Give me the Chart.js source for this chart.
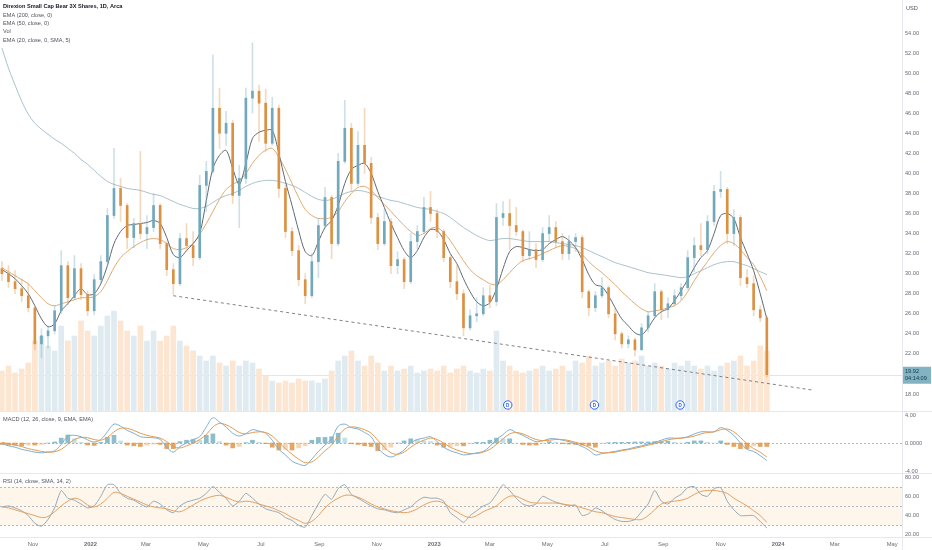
<!DOCTYPE html>
<html>
<head>
<meta charset="utf-8">
<title>Direxion Small Cap Bear 3X Shares, 1D</title>
<script src="https://cdn.jsdelivr.net/npm/chart.js@4.4.1/dist/chart.umd.min.js"></script>
<style>
  html, body { margin: 0; padding: 0; background: #fff; }
  #wrap { position: relative; width: 932px; height: 550px; overflow: hidden; }
  #wrap canvas { position: absolute; left: 0; top: 0; }
</style>
</head>
<body>
<div id="wrap">
  <canvas id="priceChart" width="932" height="550"></canvas>
  <canvas id="macdChart" width="932" height="550"></canvas>
  <canvas id="rsiChart" width="932" height="550"></canvas>
</div>
<script>
const FONT = '"Liberation Sans", Arial, sans-serif';

// weekly bars, first one is the week of this date, then +7 days each
const firstBarDate = '2021-09-29';

const opens = [30.5,30.0,29.2,28.5,27.8,26.6,23.0,23.8,24.3,26.3,
  30.8,27.6,30.5,27.9,26.3,29.4,31.2,35.8,38.5,36.8,
  33.6,35.0,34.0,34.6,36.8,33.0,30.4,29.0,33.5,32.8,
  31.6,38.8,40.2,46.5,44.0,45.0,37.8,39.5,47.5,48.2,
  47.0,43.0,46.5,38.5,34.2,32.3,29.4,27.8,31.2,34.8,
  37.6,33.0,41.2,44.5,39.0,42.8,41.0,35.6,33.0,35.2,
  30.8,31.4,29.2,33.2,34.2,36.6,36.0,34.2,31.6,29.2,
  28.0,24.6,25.8,26.0,27.8,27.2,35.6,36.0,34.8,34.2,
  31.8,32.4,31.4,34.0,34.6,33.2,32.0,33.2,33.6,28.2,
  26.6,27.8,28.6,26.0,24.0,23.0,23.4,22.4,24.6,25.8,
  28.2,26.4,27.0,27.8,28.6,31.6,32.8,32.4,35.2,38.2,
  38.4,34.0,35.6,29.6,29.0,26.4,25.6];
const highs = [31.2,30.8,30.3,29.5,29.0,26.8,24.5,24.8,26.8,32.3,
  31.2,31.8,31.0,28.3,29.9,31.8,36.5,42.5,39.5,37.0,
  35.5,42.2,35.8,38.0,37.0,33.2,31.0,34.0,35.0,34.2,
  39.8,41.2,51.8,48.5,46.2,45.3,40.8,48.5,53.0,48.8,
  48.4,47.6,46.8,38.8,34.6,32.8,30.0,32.0,35.5,38.6,
  37.8,42.0,47.3,45.0,44.2,46.5,41.6,36.0,36.4,35.5,
  32.2,31.6,34.0,34.8,37.6,38.2,36.4,34.4,31.8,30.8,
  28.4,26.4,27.6,28.6,28.8,37.0,37.2,37.4,36.6,34.4,
  34.2,33.0,34.6,35.8,35.2,34.0,33.8,34.0,33.8,28.4,
  28.2,29.6,28.8,26.6,24.2,23.8,23.6,25.0,26.2,29.0,
  28.4,27.6,28.4,29.0,32.3,33.6,35.0,35.8,38.8,40.2,
  38.6,36.4,35.8,30.4,29.8,26.8,25.8];
const lows = [29.3,28.6,28.0,27.2,26.2,22.4,21.6,22.6,24.0,26.0,
  26.9,27.4,27.4,25.8,25.9,29.0,30.8,35.5,35.2,32.5,
  32.6,33.5,32.5,34.2,32.5,29.8,27.9,28.8,32.2,30.8,
  31.4,36.2,40.0,42.5,42.8,37.0,34.6,39.0,46.0,43.2,
  42.2,42.8,37.6,33.6,31.8,28.8,27.0,27.6,29.6,34.5,
  31.5,32.8,41.0,38.2,38.8,40.0,35.0,32.4,32.8,30.0,
  30.0,28.5,29.0,32.5,34.0,35.2,33.6,31.2,28.6,27.4,
  23.8,24.4,25.2,25.8,26.6,26.8,34.8,32.4,33.8,31.2,
  31.4,30.6,31.2,33.2,32.6,31.4,31.4,32.2,27.6,25.8,
  26.2,27.6,25.6,23.4,22.6,22.6,21.8,22.4,24.2,25.6,
  25.4,25.6,26.8,27.4,28.4,30.2,31.8,32.0,34.8,37.6,
  33.0,32.8,28.8,28.6,25.8,25.2,19.7];
const closes = [30.0,29.2,28.5,27.8,26.6,23.0,23.8,24.3,26.3,30.8,
  27.6,30.5,27.9,26.3,29.4,31.2,35.8,38.5,36.8,33.6,
  35.0,34.0,34.6,36.8,33.0,30.4,29.0,33.5,32.8,31.6,
  38.8,40.2,46.5,44.0,45.0,37.8,39.5,47.5,48.2,47.0,
  43.0,46.5,38.5,34.2,32.3,29.4,27.8,31.2,34.8,37.6,
  33.0,41.2,44.5,39.0,42.8,41.0,35.6,33.0,35.2,30.8,
  31.4,29.2,33.2,34.2,36.6,36.0,34.2,31.6,29.2,28.0,
  24.6,25.8,26.0,27.8,27.2,35.6,36.0,34.8,34.2,31.8,
  32.4,31.4,34.0,34.6,33.2,32.0,33.2,33.6,28.2,26.6,
  27.8,28.6,26.0,24.0,23.0,23.4,22.4,24.6,25.8,28.2,
  26.4,27.0,27.8,28.6,31.6,32.8,32.4,35.2,38.2,38.4,
  34.0,35.6,29.6,29.0,26.4,25.6,19.92];
// volume, millions of shares (daily level)
const volumes = [4.0,4.5,3.8,4.2,4.8,7.0,7.5,6.5,6.0,8.5,
  7.0,7.5,9.0,8.0,7.5,8.5,9.5,10.0,9.0,8.0,
  7.5,8.5,7.0,8.0,7.0,7.5,8.5,7.0,6.5,6.0,
  5.5,5.0,5.5,4.8,4.5,5.0,4.5,5.0,4.8,4.2,
  3.5,3.0,2.8,3.0,2.8,3.2,3.0,3.0,2.8,3.2,
  4.0,5.0,5.5,6.0,5.0,4.5,5.5,4.8,4.0,4.5,
  4.0,4.2,4.5,3.8,4.0,4.2,4.0,4.5,3.8,4.2,
  4.5,4.0,3.8,4.2,4.0,8.0,5.0,4.5,4.0,3.8,
  4.0,4.2,4.5,4.0,4.2,4.5,4.0,5.0,4.8,5.5,
  4.5,4.8,5.0,4.5,5.2,4.8,5.0,5.5,4.5,4.8,
  4.5,4.2,4.8,4.5,5.0,4.5,4.2,4.5,4.0,4.5,
  4.8,5.0,5.5,4.5,5.0,6.5,6.0];

const ema200 = [52.5,50.5,48.8,47.2,45.9,45.0,44.4,43.9,43.4,43.0,
  42.5,42.0,41.4,40.9,40.3,39.7,39.2,38.9,38.7,38.5,
  38.4,38.3,38.1,37.9,37.8,37.5,37.2,36.9,36.7,36.5,
  36.5,36.7,37.1,37.5,37.8,38.0,38.3,38.7,39.0,39.2,
  39.3,39.3,39.2,39.0,38.8,38.5,38.1,37.7,37.4,37.3,
  37.4,37.7,38.0,38.2,38.3,38.2,38.0,37.7,37.5,37.3,
  37.2,37.0,36.8,36.6,36.5,36.4,36.2,36.0,35.6,35.1,
  34.6,34.2,33.8,33.5,33.3,33.4,33.5,33.5,33.4,33.3,
  33.2,33.2,33.2,33.2,33.1,33.0,32.9,32.8,32.6,32.3,
  32.0,31.7,31.4,31.1,30.9,30.7,30.5,30.3,30.1,30.0,
  29.9,29.8,29.7,29.6,29.7,30.0,30.3,30.6,30.9,31.1,
  31.2,31.2,31.0,30.8,30.5,30.2,29.9];
const ema50 = [30.6,30.2,29.8,29.4,29.0,28.3,27.6,27.0,26.8,27.0,
  27.2,27.4,27.6,27.6,27.7,28.2,29.3,30.6,31.6,32.2,
  32.7,33.1,33.4,33.5,33.4,33.0,32.5,32.4,32.6,33.0,
  33.9,35.0,36.2,37.4,38.4,38.9,39.3,40.0,41.0,41.8,
  42.3,42.5,41.6,40.4,39.0,37.6,36.4,35.8,35.5,35.5,
  35.6,36.2,37.2,38.0,38.6,38.7,38.3,37.6,36.9,36.2,
  35.5,34.8,34.2,33.8,34.0,34.5,34.6,34.1,33.3,32.3,
  31.3,30.4,29.8,29.4,29.0,28.9,29.4,30.1,30.8,31.3,
  31.5,31.7,32.0,32.3,32.6,32.8,32.7,32.5,31.9,31.2,
  30.6,30.1,29.5,28.9,28.2,27.6,27.0,26.5,26.2,26.3,
  26.4,26.6,26.8,27.3,28.2,29.3,30.3,31.2,32.1,32.8,
  33.2,33.0,32.4,31.6,30.9,29.7,28.3];
const ema20 = [30.4,30.0,29.5,28.8,28.0,26.8,25.5,24.7,25.0,26.3,
  27.0,27.8,28.5,27.9,28.0,29.0,30.8,33.0,34.2,34.8,
  34.9,35.0,35.1,35.3,35.0,33.6,31.9,31.6,32.3,33.0,
  34.0,37.3,40.5,41.8,42.3,40.5,38.9,41.0,43.5,44.1,
  44.3,44.3,42.0,39.2,36.8,34.3,32.2,31.8,33.2,34.6,
  35.3,36.8,39.0,40.4,40.8,41.0,40.0,38.2,36.6,35.0,
  33.6,32.3,31.6,32.3,33.6,34.4,34.3,33.4,32.0,31.0,
  29.5,28.2,27.2,26.8,27.1,28.5,30.5,32.2,32.7,32.6,
  32.4,32.3,32.4,33.0,33.4,33.7,33.3,32.6,31.4,29.9,
  28.9,28.7,27.8,26.6,25.5,24.8,24.1,23.9,24.6,25.6,
  26.2,26.5,27.3,28.3,29.4,30.6,31.6,32.3,34.0,35.8,
  36.0,35.5,33.6,32.0,30.3,28.0,25.5];

const macdLine = [-0.1,-0.4,-0.6,-0.9,-1.1,-1.3,-1.4,-1.3,-1.1,-0.2,
  0.95,1.1,0.9,0.45,0.15,0.5,1.6,2.7,2.4,1.8,
  1.4,0.9,0.8,0.75,0.5,-0.6,-1.3,-0.5,0,0.5,
  0.9,2.3,3.6,3.0,2.3,1.4,1.0,1.35,1.9,1.7,
  1.4,0.4,-0.9,-1.7,-2.6,-3.0,-3.2,-2.3,-1.2,-0.3,
  0.6,2.4,2.7,2.2,2.0,1.5,0.9,-0.7,-1.6,-2.0,
  -1.6,-1.0,0,0.5,0.7,0.9,0.2,-0.6,-1.1,-1.4,
  -1.7,-1.6,-1.4,-1.2,-0.5,0.5,1.2,1.9,1.5,1.1,
  0.6,0.2,0.3,0.6,0.6,0.4,0.2,-0.1,-0.5,-1.0,
  -1.7,-1.5,-1.35,-1.2,-1.0,-0.85,-0.6,-0.4,-0.15,0.1,
  0.4,0.7,0.7,0.7,0.9,1.3,1.6,1.6,1.6,2.2,
  1.8,1.1,0,-0.9,-1.2,-1.8,-2.5];
const signalLine = [0.1,-0.1,-0.3,-0.5,-0.8,-1.0,-1.2,-1.3,-1.25,-0.9,
  -0.2,0.5,0.8,0.75,0.5,0.4,0.8,1.6,2.1,2.1,
  1.8,1.4,1.1,0.9,0.7,0.2,-0.5,-0.7,-0.4,0,
  0.5,1.2,2.3,2.8,2.6,2.1,1.5,1.3,1.5,1.6,
  1.5,1.0,0.1,-0.8,-1.6,-2.3,-2.8,-2.7,-2.0,-1.1,
  -0.3,1.0,2.0,2.3,2.2,1.9,1.4,0.4,-0.6,-1.4,
  -1.6,-1.3,-0.6,0,0.4,0.7,0.5,0,-0.6,-1.0,
  -1.3,-1.5,-1.5,-1.3,-0.9,-0.2,0.6,1.3,1.5,1.3,
  0.9,0.5,0.35,0.4,0.5,0.5,0.35,0.1,-0.2,-0.6,
  -1.1,-1.4,-1.4,-1.3,-1.1,-0.95,-0.75,-0.55,-0.3,-0.1,
  0.2,0.45,0.6,0.7,0.8,1.0,1.3,1.5,1.6,1.9,
  2.0,1.6,0.8,-0.1,-0.8,-1.3,-2.0];

const rsiLine = [49,50,48,45,40,32,29,36,48,66,
  58,56,52,48,50,60,72,72,63,58,
  56,52,49,55,52,46,43,50,54,56,
  58,63,70,64,58,50,55,63,58,52,
  47,45,43,38,35,30,28,40,52,62,
  57,68,72,62,58,54,50,47,46,44,
  43,46,49,55,59,58,58,55,43,38,
  33,40,45,50,53,62,72,66,58,52,
  50,52,60,57,54,52,50,51,40,42,
  48,45,40,36,34,34,36,44,52,66,
  55,52,58,62,69,70,62,60,68,69,
  55,46,40,40,40,34,27];
const rsiMa = [49,48,46,44,42,40,38,39,44,50,
  55,58,56,51,49,52,58,64,63,60,
  57,54,51,49,48,47,45,44,47,51,
  55,58,60,61,59,56,54,55,54,52,
  50,48,45,42,38,35,32,34,40,48,
  54,58,61,61,59,56,52,49,47,45,
  44,43,44,47,51,54,55,53,48,44,
  40,38,40,44,47,50,56,60,60,57,
  54,53,53,53,53,52,51,50,48,46,
  44,43,41,39,38,37,36,36,40,46,
  52,54,55,56,58,62,65,66,66,65,
  63,58,54,50,45,40,33];

const priceTicks = [18,22,24,26,28,30,32,34,36,38,40,42,44,46,48,50,52,54];
const macdTicks = [-4, 0, 4];
const rsiTicks = [20, 40, 60, 80];
const rsiLevels = [70, 50, 30];
const timeTickDates = ['2021-11-01','2022-01-01','2022-03-01','2022-05-01','2022-07-01','2022-09-01',
  '2022-11-01','2023-01-01','2023-03-01','2023-05-01','2023-07-01','2023-09-01','2023-11-01',
  '2024-01-01','2024-03-01','2024-05-01'];
const timeTickLabels = ['Nov','2022','Mar','May','Jul','Sep','Nov','2023','Mar','May','Jul','Sep','Nov','2024','Mar','May'];
const dividendDates = ['2023-03-20','2023-06-20','2023-09-19'];
const trendDates = ['2022-03-30','2024-02-06'];
const trendValues = [27.8, 18.4];
const lastPrice = 19.92;
const lastTime = '04:14:09';
const legendLines = ['Direxion Small Cap Bear 3X Shares, 1D, Arca','EMA (200, close, 0)','EMA (50, close, 0)','Vol','EMA (20, close, 0, SMA, 5)'];

const UP = '#72a8bb', DOWN = '#dc9142';
const ORIGIN = Date.UTC(2021, 10, 1);
function dayNum(s) {
  const p = s.split('-').map(Number);
  return (Date.UTC(p[0], p[1] - 1, p[2]) - ORIGIN) / 86400000;
}
const X_MIN = -35, X_MAX = 922.5;
const barX = closes.map((c, i) => dayNum(firstBarDate) + 7 * i);
const isUp = closes.map((c, i) => c >= opens[i]);
const pts = arr => arr.map((v, i) => ({ x: barX[i], y: v }));

function xAxis(show) {
  return { type: 'linear', min: X_MIN, max: X_MAX, offset: false, display: show,
    grid: { display: false, drawTicks: false }, border: { display: false } };
}
function yAxis(min, max, ticks, fmt) {
  return {
    position: 'right', min, max,
    afterFit: s => { s.width = 30; s.paddingTop = 0; s.paddingBottom = 0; },
    afterBuildTicks: s => { s.ticks = ticks.map(v => ({ value: v })); },
    ticks: { callback: fmt, color: '#6a6d78', padding: 3, font: { size: 5.6, family: FONT } },
    grid: { display: false, drawTicks: false },
    border: { display: false }
  };
}
const base = {
  responsive: false, animation: false, events: [],
  plugins: { legend: { display: false }, tooltip: { enabled: false } }
};
function lineSet(arr, color, order, extra) {
  return Object.assign({ type: 'line', data: pts(arr), borderColor: color, borderWidth: 1,
    pointRadius: 0, tension: 0.3, fill: false, order }, extra || {});
}
function text(ctx, str, x, y, size, color, bold, align) {
  ctx.font = (bold ? 'bold ' : '') + size + 'px ' + FONT;
  ctx.fillStyle = color;
  ctx.textAlign = align || 'left';
  ctx.textBaseline = 'middle';
  ctx.fillText(str, x, y);
}
function dashedH(ctx, a, y, color) {
  ctx.save();
  ctx.strokeStyle = color; ctx.lineWidth = 1; ctx.setLineDash([2, 2]);
  ctx.beginPath(); ctx.moveTo(a.left, Math.round(y) + 0.5); ctx.lineTo(a.right, Math.round(y) + 0.5); ctx.stroke();
  ctx.restore();
}

// ---------- price pane ----------
const priceDecor = {
  id: 'priceDecor',
  beforeDatasetsDraw(chart) {
    const { ctx, chartArea: a, scales } = chart;
    const y = Math.round(scales.y.getPixelForValue(lastPrice)) + 0.5;
    ctx.save();
    ctx.strokeStyle = '#e3e5ea'; ctx.lineWidth = 1;
    ctx.beginPath(); ctx.moveTo(a.left, y); ctx.lineTo(a.right, y); ctx.stroke();
    ctx.restore();
  },
  afterDraw(chart) {
    const { ctx, chartArea: a, scales } = chart;
    ctx.save();
    legendLines.forEach((s, i) => text(ctx, s, 3, 6.7 + i * 8.4, 5.6, i === 0 ? '#131722' : '#50535e', i === 0));
    text(ctx, 'USD', 906, 8, 5.6, '#50535e');
    // last price label on the axis
    const y = scales.y.getPixelForValue(lastPrice);
    ctx.fillStyle = '#82b3c3';
    ctx.fillRect(a.right + 1, y - 8, 28, 17);
    text(ctx, lastPrice.toFixed(2), a.right + 3, y - 3.5, 5.6, '#163743');
    text(ctx, lastTime, a.right + 3, y + 4, 5.6, '#163743');
    // dividend markers
    dividendDates.forEach(d => {
      const x = scales.x.getPixelForValue(dayNum(d));
      const cy = a.bottom - 6;
      ctx.beginPath(); ctx.arc(x, cy, 4.2, 0, Math.PI * 2);
      ctx.fillStyle = '#fff'; ctx.fill();
      ctx.strokeStyle = '#2f62f0'; ctx.lineWidth = 1; ctx.stroke();
      text(ctx, 'D', x, cy + 0.3, 4.6, '#2f62f0', true, 'center');
    });
    ctx.restore();
  }
};

new Chart(document.getElementById('priceChart'), {
  type: 'bar',
  data: {
    datasets: [
      { data: barX.map((x, i) => ({ x, y: volumes[i] })), yAxisID: 'yv', grouped: false, barThickness: 5,
        backgroundColor: isUp.map(u => u ? '#dfebf1' : '#fce6d2'), order: 10 },
      { type: 'line', data: trendDates.map((d, i) => ({ x: dayNum(d), y: trendValues[i] })),
        borderColor: '#7d808a', borderWidth: 1, borderDash: [3, 3], pointRadius: 0, order: 6 },
      lineSet(ema200, '#a9c2ca', 5),
      lineSet(ema50, '#e0aa72', 4),
      lineSet(ema20, '#5f6a74', 3),
      { data: barX.map((x, i) => ({ x, y: [lows[i], highs[i]] })), grouped: false, barThickness: 1,
        backgroundColor: isUp.map(u => u ? 'rgba(114,168,187,0.35)' : 'rgba(220,145,66,0.35)'), order: 2 },
      { data: barX.map((x, i) => ({ x, y: [opens[i], closes[i]] })), grouped: false, barThickness: 2, minBarLength: 1,
        backgroundColor: isUp.map(u => u ? UP : DOWN), order: 1 }
    ]
  },
  options: Object.assign({}, base, {
    layout: { padding: { top: 0, bottom: 139, left: 0, right: 0 } },
    scales: {
      x: xAxis(false),
      y: yAxis(16.305, 57.29, priceTicks, v => v.toFixed(2)),
      yv: { display: false, min: 0, max: 41.1 }
    }
  }),
  plugins: [priceDecor]
});

// ---------- MACD pane ----------
const hist = macdLine.map((m, i) => +(m - signalLine[i]).toFixed(2));
const histColors = hist.map((h, i) => {
  const prev = i ? hist[i - 1] : 0;
  if (h >= 0) return h >= prev ? 'rgba(92,159,181,0.7)' : 'rgba(150,196,212,0.55)';
  return h <= prev ? 'rgba(223,143,60,0.8)' : 'rgba(240,190,140,0.65)';
});
const macdDecor = {
  id: 'macdDecor',
  beforeDatasetsDraw(chart) {
    dashedH(chart.ctx, chart.chartArea, chart.scales.y.getPixelForValue(0), '#b4b7c0');
  },
  afterDraw(chart) {
    text(chart.ctx, 'MACD (12, 26, close, 9, EMA, EMA)', 3, 419, 5.6, '#50535e');
  }
};
new Chart(document.getElementById('macdChart'), {
  type: 'bar',
  data: {
    datasets: [
      { data: pts(hist), grouped: false, barThickness: 4, backgroundColor: histColors, order: 3 },
      lineSet(macdLine, '#7eaed0', 2, { tension: 0.35 }),
      lineSet(signalLine, '#e39a4e', 1, { tension: 0.35 })
    ]
  },
  options: Object.assign({}, base, {
    layout: { padding: { top: 412, bottom: 78, left: 0, right: 0 } },
    scales: {
      x: xAxis(false),
      y: yAxis(-4.14, 4.43, macdTicks, v => v === 0 ? '0.0000' : v.toFixed(2))
    }
  }),
  plugins: [macdDecor]
});

// ---------- RSI pane + time axis ----------
const rsiDecor = {
  id: 'rsiDecor',
  beforeDatasetsDraw(chart) {
    const { ctx, chartArea: a, scales } = chart;
    const yTop = scales.y.getPixelForValue(rsiLevels[0]);
    const yBot = scales.y.getPixelForValue(rsiLevels[2]);
    ctx.save();
    ctx.fillStyle = 'rgba(248,190,130,0.16)';
    ctx.fillRect(a.left, yTop, a.right - a.left, yBot - yTop);
    ctx.restore();
    rsiLevels.forEach(v => dashedH(ctx, a, scales.y.getPixelForValue(v), '#b4b7c0'));
  },
  afterDraw(chart) {
    const { ctx, chartArea: a } = chart;
    text(ctx, 'RSI (14, close, SMA, 14, 2)', 3, 481, 5.6, '#50535e');
    ctx.save();
    ctx.strokeStyle = '#e6e8ed'; ctx.lineWidth = 1;
    [411.5, 473.5, 537.5].forEach(y => {
      ctx.beginPath(); ctx.moveTo(0, y); ctx.lineTo(932, y); ctx.stroke();
    });
    ctx.beginPath(); ctx.moveTo(a.right + 0.5, 0); ctx.lineTo(a.right + 0.5, 550); ctx.stroke();
    ctx.restore();
  }
};
const timeAxis = Object.assign(xAxis(true), {
  afterFit: s => { s.height = 13; s.paddingLeft = 0; s.paddingRight = 0; },
  afterBuildTicks: s => { s.ticks = timeTickDates.map(d => ({ value: dayNum(d) })); },
  ticks: {
    autoSkip: false, maxRotation: 0, minRotation: 0, padding: 4, color: '#6a6d78',
    callback: (v, i) => timeTickLabels[i],
    font: ctx => ({ size: 5.8, family: FONT, weight: /^20/.test(timeTickLabels[ctx.index] || '') ? 'bold' : 'normal' })
  }
});
new Chart(document.getElementById('rsiChart'), {
  type: 'line',
  data: {
    datasets: [
      lineSet(rsiLine, '#93a9b7', 2, { tension: 0.2 }),
      lineSet(rsiMa, '#e3a062', 1, { tension: 0.35 })
    ]
  },
  options: Object.assign({}, base, {
    layout: { padding: { top: 474, bottom: 0, left: 0, right: 0 } },
    scales: {
      x: timeAxis,
      y: yAxis(17.82, 83.11, rsiTicks, v => v.toFixed(2))
    }
  }),
  plugins: [rsiDecor]
});
</script>
</body>
</html>
